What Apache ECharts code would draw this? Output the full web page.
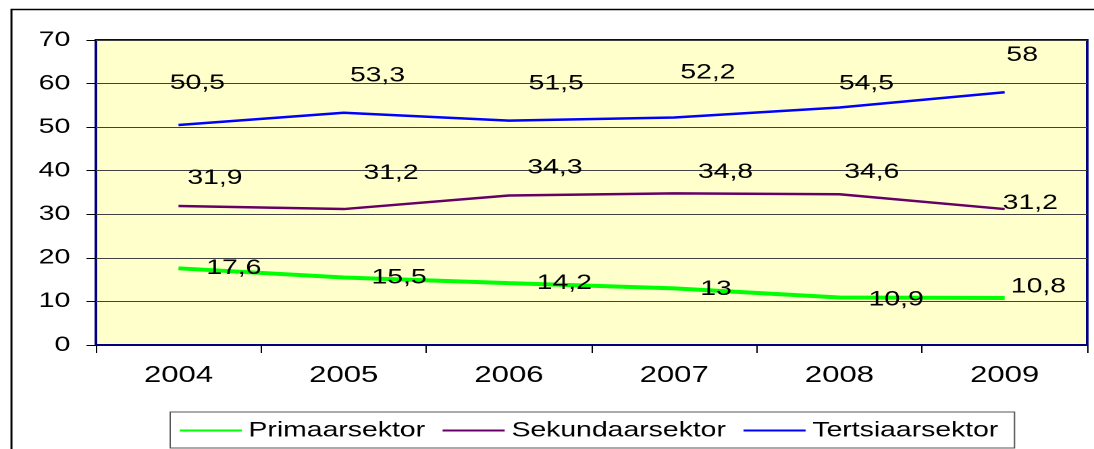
<!DOCTYPE html>
<html>
<head>
<meta charset="utf-8">
<script src="https://cdn.jsdelivr.net/npm/echarts@6/dist/echarts.min.js"></script>
<style>
  html, body { margin: 0; padding: 0; background: #fff; overflow: hidden; }
  /* the source image is stretched sideways, so draw narrow and stretch */
  #chart { width: 810px; height: 449px; transform: scaleX(1.3506); transform-origin: 0 0; }
</style>
</head>
<body>
<div id="chart"></div>
<script>
const years = ['2004', '2005', '2006', '2007', '2008', '2009']
const primaar = [17.6, 15.5, 14.2, 13, 10.9, 10.8]
const sekundaar = [31.9, 31.2, 34.3, 34.8, 34.6, 31.2]
const tertsiaar = [50.5, 53.3, 51.5, 52.2, 54.5, 58]
const yTicks = { min: 0, max: 70, step: 10 }

// where each value label sits relative to its point (dx, dy)
const primaarLabelPos = [[41, 0], [41, 0], [41, 0], [31, 1], [42, 2], [25, -11]]
const sekundaarLabelPos = [[27, -28], [35, -36], [34, -28], [38, -21], [24, -22], [19, -6]]
const tertsiaarLabelPos = [[14, -42], [25, -37], [35, -37], [25, -45], [20, -24], [13, -37]]

const font = 'Liberation Sans, Arial, sans-serif'

function withLabels(values, pos) {
  return values.map((v, i) => {
    return {
      value: v,
      label: { offset: pos[i] }
    }
  })
}

function lineSeries(name, values, pos, color, width) {
  return {
    name: name,
    type: 'line',
    data: withLabels(values, pos),
    symbol: 'circle',
    symbolSize: 0,
    showSymbol: true,
    lineStyle: { color: color, width: width },
    itemStyle: { color: color },
    label: {
      show: true,
      position: 'inside',
      color: '#000',
      fontSize: 21,
      fontFamily: font,
      formatter: p => String(p.value).replace('.', ',')
    },
    z: 3
  }
}

const chart = echarts.init(document.getElementById('chart'), null, { devicePixelRatio: 2 })
let option = {
  animation: false,
  graphic: [{
    type: 'rect',
    left: 6,
    top: 7,
    shape: { width: 900, height: 600 },
    style: { fill: 'none', stroke: '#000', lineWidth: 1.5 },
    silent: true
  }],
  grid: {
    left: 71,
    right: 5,
    top: 40,
    bottom: 104,
    show: true,
    backgroundColor: '#FFFFCC',
    borderColor: '#000080',
    borderWidth: 2
  },
  legend: {
    left: 126,
    top: 412,
    padding: [8, 12, 7, 6],
    itemWidth: 46,
    itemHeight: 20,
    itemGap: 12,
    borderColor: '#555',
    borderWidth: 1,
    itemStyle: { opacity: 0 },
    textStyle: { fontSize: 21, fontFamily: font, color: '#000' },
    data: ['Primaarsektor', 'Sekundaarsektor', 'Tertsiaarsektor']
  },
  xAxis: {
    type: 'category',
    data: years,
    boundaryGap: true,
    axisLine: { lineStyle: { color: '#000080', width: 2 } },
    axisTick: { show: true, length: 8, lineStyle: { color: '#000' } },
    axisLabel: { fontSize: 23, fontFamily: font, color: '#000', margin: 19 }
  },
  yAxis: {
    type: 'value',
    min: yTicks.min,
    max: yTicks.max,
    interval: yTicks.step,
    axisLine: { show: false },
    axisTick: { show: true, length: 7, lineStyle: { color: '#000' } },
    axisLabel: { fontSize: 21, fontFamily: font, color: '#000', margin: 19 },
    splitLine: { lineStyle: { color: '#404040', width: 1 } }
  },
  series: [
    lineSeries('Primaarsektor', primaar, primaarLabelPos, '#00FF00', 4),
    lineSeries('Sekundaarsektor', sekundaar, sekundaarLabelPos, '#660066', 2.5),
    lineSeries('Tertsiaarsektor', tertsiaar, tertsiaarLabelPos, '#0000FF', 2.5)
  ]
}
option && chart.setOption(option)
</script>
</body>
</html>
